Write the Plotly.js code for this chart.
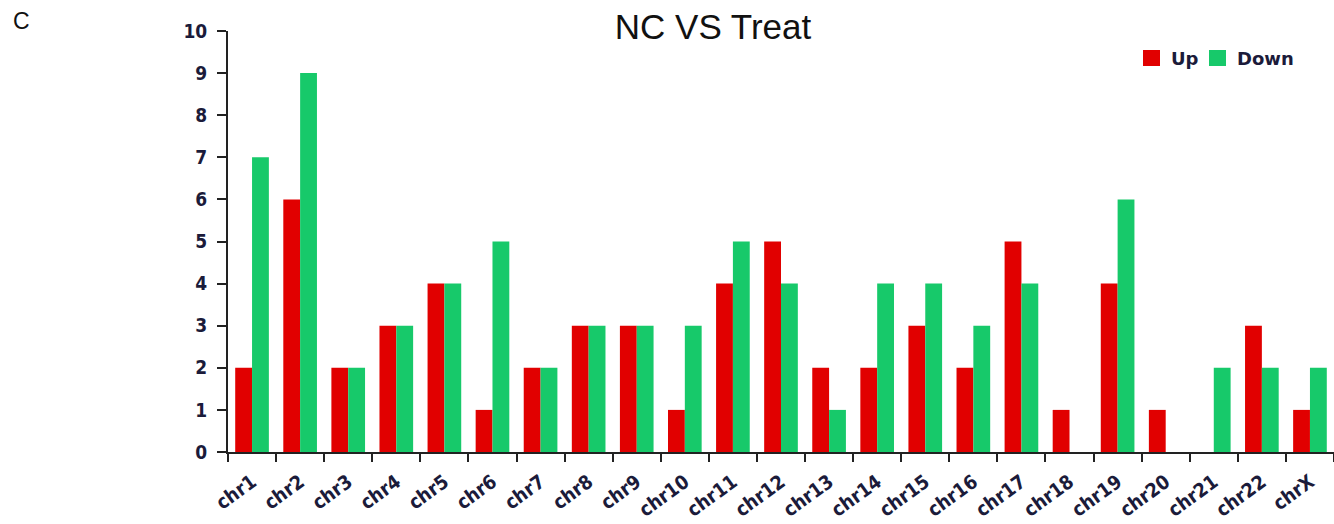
<!DOCTYPE html>
<html>
<head>
<meta charset="utf-8">
<script src="https://cdn.plot.ly/plotly-3.0.1.min.js"></script>
<style>html,body{margin:0;padding:0;background:#fff;}#chart{width:1334px;height:524px;}</style>
</head>
<body>
<div id="chart"></div>
<script>
const categories = ["chr1","chr2","chr3","chr4","chr5","chr6","chr7","chr8","chr9","chr10","chr11","chr12","chr13","chr14","chr15","chr16","chr17","chr18","chr19","chr20","chr21","chr22","chrX"];
const upValues   = [2,6,2,3,4,1,2,3,3,1,4,5,2,2,3,2,5,1,4,1,0,3,1];
const downValues = [7,9,2,3,4,5,2,3,3,3,5,4,1,4,4,3,4,0,6,0,2,2,2];
const yTicks = [0,1,2,3,4,5,6,7,8,9,10];
const seriesNames = ["Up", "Down"];
const seriesColors = ["#e10000", "#17c96a"];

const W = 1334, H = 524, L = 228, R = 0, T = 31, B = 72;
const PW = W - L - R, PH = H - T - B;
const px = v => (v - L) / PW;
const py = v => (H - B - v) / PH;

const tickLabelColor = "#1b1b3a";
const condensed = "DejaVu Sans Condensed, Liberation Sans Narrow, DejaVu Sans, sans-serif";
const xFont = {family: condensed, size: 19.5, color: tickLabelColor, weight: "bold"};
const yFont = {family: condensed, size: 19, color: tickLabelColor, weight: "bold"};
const legFont = {family: "DejaVu Sans, Verdana, sans-serif", size: 18, color: tickLabelColor, weight: "bold"};

const traces = [
  {type: "bar", name: seriesNames[0], x: categories, y: upValues, marker: {color: seriesColors[0]}},
  {type: "bar", name: seriesNames[1], x: categories, y: downValues, marker: {color: seriesColors[1]}}
];

// legend drawn with shapes + annotations (paper coordinates)
const legendItems = [
  {sq: [1143, 1160], tx: 1169},
  {sq: [1209, 1226], tx: 1235}
];
const shapes = legendItems.map((it, i) => ({
  type: "rect", xref: "paper", yref: "paper",
  x0: px(it.sq[0]), x1: px(it.sq[1]), y0: py(66), y1: py(50),
  fillcolor: seriesColors[i], line: {width: 0}
}));
const legendAnn = legendItems.map((it, i) => ({
  text: seriesNames[i], xref: "paper", yref: "paper", x: px(it.tx), y: py(58),
  xanchor: "left", yanchor: "middle", showarrow: false, font: legFont
}));

const layout = {
  width: W, height: H,
  margin: {l: L, r: R, t: T, b: B},
  paper_bgcolor: "#fff", plot_bgcolor: "#fff",
  barmode: "group", bargap: 0.3, bargroupgap: 0,
  title: {text: "NC VS Treat", xref: "paper", x: px(713), xanchor: "center",
          yref: "container", y: 1 - 27 / H, yanchor: "middle",
          font: {family: "Liberation Sans, Arial, sans-serif", size: 35, color: "#111"}},
  showlegend: false,
  xaxis: {
    tickmode: "array", tickvals: categories, ticktext: categories,
    tickson: "boundaries", ticks: "outside", ticklen: 8, tickwidth: 2, tickcolor: "#222",
    showline: true, linecolor: "#222", linewidth: 2,
    tickangle: -36, tickfont: xFont, ticklabelstandoff: 9,
    showgrid: false, zeroline: false, fixedrange: true
  },
  yaxis: {
    range: [0, 10], tickmode: "array", tickvals: yTicks,
    ticks: "outside", ticklen: 9, tickwidth: 2, tickcolor: "#222",
    showline: true, linecolor: "#222", linewidth: 2,
    tickfont: yFont, ticklabelstandoff: 6,
    showgrid: false, zeroline: false, fixedrange: true
  },
  shapes: shapes,
  annotations: [
    {text: "C", xref: "paper", yref: "paper", x: px(11), y: py(21),
     xanchor: "left", yanchor: "middle", showarrow: false,
     font: {family: "Liberation Sans, Arial, sans-serif", size: 23, color: "#111"}}
  ].concat(legendAnn)
};

Plotly.newPlot("chart", traces, layout, {displayModeBar: false, staticPlot: true});
</script>
</body>
</html>
